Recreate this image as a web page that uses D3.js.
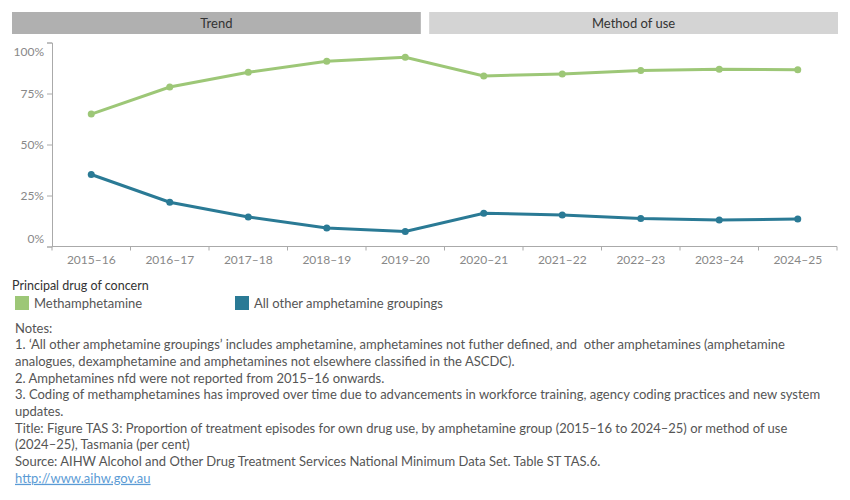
<!DOCTYPE html>
<html>
<head>
<meta charset="utf-8">
<script src="https://cdn.jsdelivr.net/npm/d3@7"></script>
<style>
  body { margin:0; background:#fff; }
  svg text { font-family: Lato, "Open Sans", sans-serif; white-space: pre; }
</style>
</head>
<body>
<svg id="chart" width="850" height="500"></svg>
<script>
// data
var years = ["2015–16","2016–17","2017–18","2018–19","2019–20","2020–21","2021–22","2022–23","2023–24","2024–25"]
var methValues  = [64.9, 78.2, 85.4, 90.8, 92.8, 83.6, 84.6, 86.3, 86.9, 86.6]
var otherValues = [35.3, 21.7, 14.5, 9.1, 7.4, 16.3, 15.5, 13.7, 13.0, 13.5]
var seriesNames = ["Methamphetamine", "All other amphetamine groupings"]
var seriesColors = ["#9dc777", "#2a7a95"]
var yTicks = [0, 25, 50, 75, 100]
var headers = ["Trend", "Method of use"]
var notes = [
  "Notes:",
  "1. ‘All other amphetamine groupings’ includes amphetamine, amphetamines not futher defined, and  other amphetamines (amphetamine",
  "analogues, dexamphetamine and amphetamines not elsewhere classified in the ASCDC).",
  "2. Amphetamines nfd were not reported from 2015–16 onwards.",
  "3. Coding of methamphetamines has improved over time due to advancements in workforce training, agency coding practices and new system",
  "updates.",
  "Title: Figure TAS 3: Proportion of treatment episodes for own drug use, by amphetamine group (2015–16 to 2024–25) or method of use",
  "(2024–25), Tasmania (per cent)",
  "Source: AIHW Alcohol and Other Drug Treatment Services National Minimum Data Set. Table ST TAS.6."
]
var link = "http://www.aihw.gov.au"

var svg = d3.select("#chart")

// header strips
var hx = d3.scaleBand().domain(headers).range([12, 838]).paddingInner(0.02)
var hdr = svg.append("g")
hdr.selectAll("rect").data(headers).enter().append("rect")
  .attr("x", function(d){ return hx(d) })
  .attr("y", 12)
  .attr("width", hx.bandwidth())
  .attr("height", 22)
  .attr("fill", function(d,i){ return i==0 ? "#b0b0b0" : "#d4d4d4" })
hdr.selectAll("text").data(headers).enter().append("text")
  .attr("x", function(d){ return hx(d) + hx.bandwidth()/2 })
  .attr("y", 28)
  .attr("text-anchor", "middle")
  .attr("font-size", 13)
  .attr("fill", "#333")
  .text(function(d){ return d })

// scales
var x = d3.scaleBand().domain(years).range([52, 837])
var y = d3.scaleLinear().domain([0, 100]).range([246.5, 42.5])

var axisColor = "#aaa"

// y axis
var yAxis = svg.append("g")
  .attr("transform", "translate(52,0)")
  .call(d3.axisLeft(y).tickValues(yTicks).tickSize(5).tickPadding(3).tickFormat(function(d){ return d + "%" }))
yAxis.select(".domain").attr("stroke", axisColor)
yAxis.selectAll(".tick line").attr("stroke", axisColor)
yAxis.selectAll(".tick text")
  .attr("font-size", 12)
  .attr("font-family", "Lato, sans-serif")
  .attr("fill", "#888")
  .attr("dy", function(d){ return d == 0 ? "-0.35em" : (d == 100 ? "1.1em" : "0.32em") })

// x axis with ticks at band edges
var xAxis = svg.append("g").attr("transform", "translate(0,246.5)")
xAxis.append("line")
  .attr("x1", 52).attr("x2", 837)
  .attr("stroke", axisColor)
var edges = years.map(function(d){ return x(d) }).concat([x.range()[1]])
xAxis.selectAll(".edge").data(edges).enter().append("line")
  .attr("class", "edge")
  .attr("x1", function(d){ return d }).attr("x2", function(d){ return d })
  .attr("y1", 0).attr("y2", 4)
  .attr("stroke", axisColor)
xAxis.selectAll("text").data(years).enter().append("text")
  .attr("x", function(d){ return x(d) + x.bandwidth()/2 })
  .attr("y", 17)
  .attr("text-anchor", "middle")
  .attr("font-size", 12)
  .attr("fill", "#888")
  .text(function(d){ return d })

// lines
var series = [methValues, otherValues]
var line = d3.line()
  .x(function(d,i){ return x(years[i]) + x.bandwidth()/2 })
  .y(function(d){ return y(d) })

series.forEach(function(vals, s){
  var g = svg.append("g")
  g.append("path")
    .attr("d", line(vals))
    .attr("fill", "none")
    .attr("stroke", seriesColors[s])
    .attr("stroke-width", 3)
  g.selectAll("circle").data(vals).enter().append("circle")
    .attr("cx", function(d,i){ return x(years[i]) + x.bandwidth()/2 })
    .attr("cy", function(d){ return y(d) })
    .attr("r", 3.5)
    .attr("fill", seriesColors[s])
})

// legend
var legend = svg.append("g")
legend.append("text")
  .attr("x", 12).attr("y", 290)
  .attr("font-size", 12.5)
  .attr("fill", "#333")
  .text("Principal drug of concern")
var items = legend.selectAll(".item").data(seriesNames).enter().append("g")
  .attr("transform", function(d,i){ return "translate(" + (15 + i*220) + ",296)" })
items.append("rect")
  .attr("width", 14).attr("height", 14)
  .attr("fill", function(d,i){ return seriesColors[i] })
items.append("text")
  .attr("x", 19).attr("y", 12)
  .attr("font-size", 13)
  .attr("fill", "#555")
  .text(function(d){ return d })

// notes
var notesG = svg.append("g")
notesG.selectAll("text").data(notes).enter().append("text")
  .attr("x", 15)
  .attr("y", function(d,i){ return 332.5 + i*16.7 })
  .attr("font-size", 13)
  .attr("fill", "#555")
  .text(function(d){ return d })
notesG.append("text")
  .attr("x", 15)
  .attr("y", 332.5 + notes.length*16.7)
  .attr("font-size", 13)
  .attr("fill", "#5b9bd5")
  .attr("text-decoration", "underline")
  .text(link)
</script>
</body>
</html>
